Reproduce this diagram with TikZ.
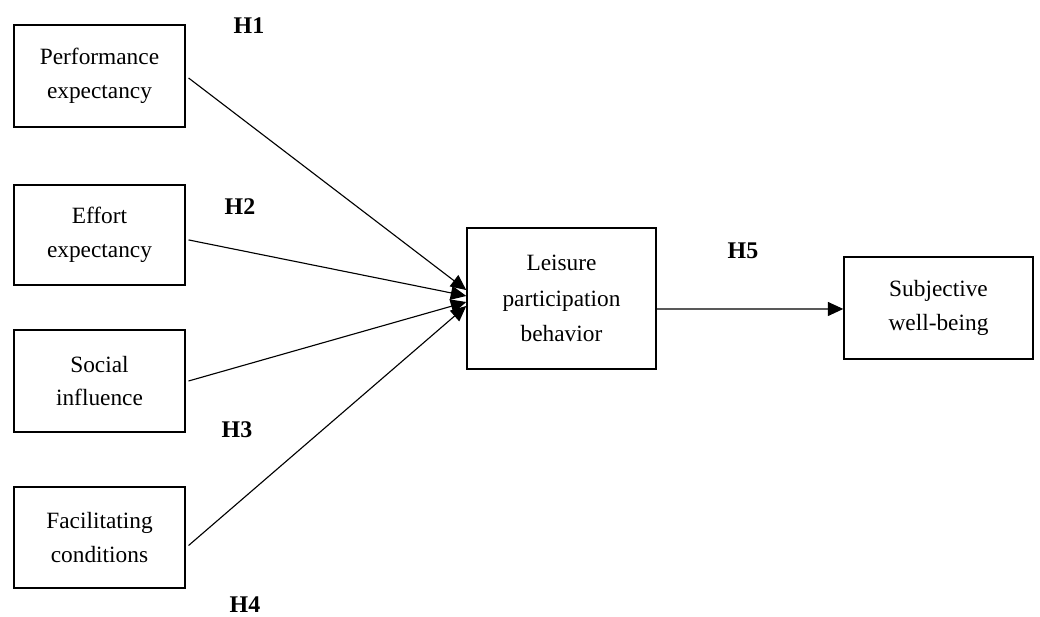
\documentclass[tikz,border=0pt]{standalone}
\usepackage{fontspec}
\setmainfont{Liberation Serif}
\usetikzlibrary{arrows.meta}

\tikzset{
    construct/.style={draw, line width=1pt, align=center, inner sep=0pt,
        minimum width=4.275cm, minimum height=2.55cm, font=\fontsize{16.6}{24}\selectfont},
    hyp/.style={font=\fontsize{17}{20}\selectfont\bfseries},
    link/.style={line width=0.8pt, -{Triangle[length=11pt,width=10pt]}}
}

\begin{document}
\begin{tikzpicture}[x=0.025cm, y=-0.025cm]
    \useasboundingbox (0,0) rectangle (1040,617);
    % constructs
    \node[construct] (perf) at (99.5,76) {Performance\\expectancy};
    \node[construct, minimum height=2.5cm] (effort) at (99.5,235) {Effort\\expectancy};
    \node[construct] (social) at (99.5,381) {Social\\influence};
    \node[construct, minimum height=2.525cm] (facil) at (99.5,537.5) {Facilitating\\conditions};
    \node[construct, minimum width=4.725cm, minimum height=3.525cm,
        font=\fontsize{16.6}{25.5}\selectfont] (leisure) at (561.5,298.5) {Leisure\\participation\\behavior};
    \node[construct, minimum width=4.725cm] (subj) at (938.5,308) {Subjective\\well-being};
    % hypotheses
    \node[hyp] (h1) at (249,26) {H1};
    \node[hyp] (h2) at (240,207) {H2};
    \node[hyp] (h3) at (237,430) {H3};
    \node[hyp] (h4) at (245,605) {H4};
    \node[hyp] (h5) at (743,251) {H5};
    % paths
    \draw[link] ([xshift=2pt,yshift=-1.4pt]perf.east) -- ([yshift=6pt]leisure.west);
    \draw[link] ([xshift=2pt,yshift=-3.5pt]effort.east) -- ([yshift=1.8pt]leisure.west);
    \draw[link] ([xshift=2pt]social.east) -- ([yshift=-2.5pt]leisure.west);
    \draw[link] ([xshift=2pt,yshift=-5.7pt]facil.east) -- ([yshift=-5.3pt]leisure.west);
    \draw[link] ([yshift=-7.5pt]leisure.east) -- ([yshift=-0.7pt]subj.west);
\end{tikzpicture}
\end{document}
